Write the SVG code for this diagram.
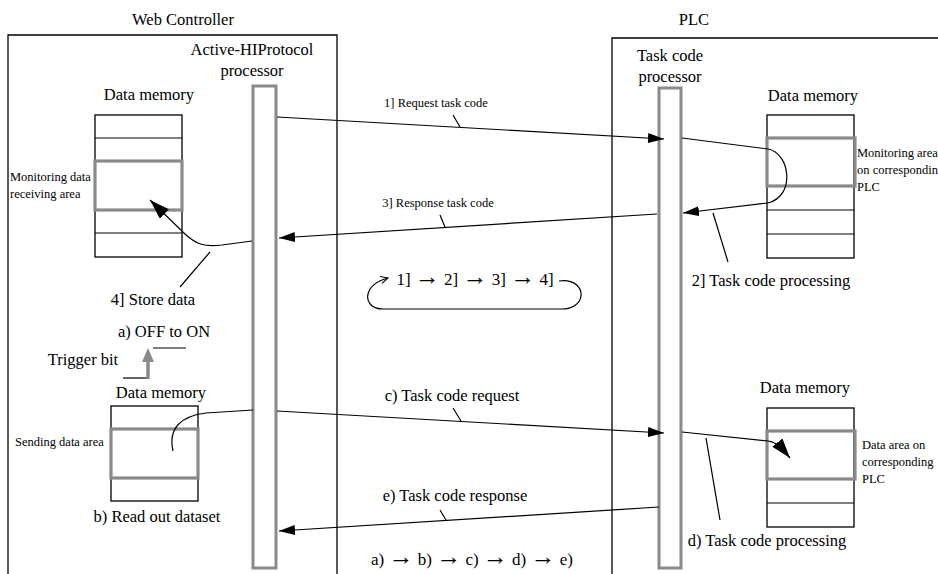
<svg xmlns="http://www.w3.org/2000/svg" width="938" height="574" viewBox="0 0 938 574" font-family="'Liberation Serif', 'Times New Roman', 'DejaVu Serif', serif">
<style>
  text { font-family: "Liberation Serif", "Times New Roman", "DejaVu Serif", serif; fill: #000; }
  .lg { font-size: 16.5px; }
  .sm { font-size: 12.5px; }
  .ar { font-size: 25px; }
  .fr { fill: none; stroke: #000; stroke-width: 1.3; }
  .bar { fill: #fff; stroke: #8a8a8a; stroke-width: 3; }
  .cell { fill: #fff; stroke: #000; stroke-width: 1.3; }
  .area { fill: none; stroke: #8a8a8a; stroke-width: 3.2; }
  .ln { fill: none; stroke: #000; stroke-width: 1.2; }
  .arw { fill: none; stroke: #000; stroke-width: 1.2; marker-end: url(#ah); }
</style>
<defs>
  <marker id="ah" viewBox="0 0 16 10" refX="16" refY="5" markerWidth="16" markerHeight="10" markerUnits="userSpaceOnUse" orient="auto">
    <path d="M0,0 L16,5 L0,10 z" fill="#000"/>
  </marker>
  <marker id="ahb" viewBox="0 0 20 13" refX="20" refY="6.5" markerWidth="20" markerHeight="13" markerUnits="userSpaceOnUse" orient="auto">
    <path d="M0,0 L20,6.5 L0,13 z" fill="#000"/>
  </marker>
  <marker id="ao" viewBox="0 0 10 10" refX="9" refY="5" markerWidth="9" markerHeight="9" markerUnits="userSpaceOnUse" orient="auto">
    <path d="M1,1 L9,5 L1,9" fill="none" stroke="#000" stroke-width="1.2"/>
  </marker>
</defs>
<rect width="938" height="574" fill="#fff"/>

<g id="web-controller">
  <path class="fr" d="M8,574 V35 H337 V574"/>
  <text class="lg" x="183" y="25" text-anchor="middle">Web Controller</text>
</g>
<g id="plc">
  <path class="fr" d="M612,574 V38 H938"/>
  <text class="lg" x="694" y="25" text-anchor="middle">PLC</text>
</g>

<g id="ahp-processor">
  <text class="lg" x="252" y="55" text-anchor="middle">Active-HIProtocol</text>
  <text class="lg" x="252" y="76" text-anchor="middle">processor</text>
  <rect class="bar" x="253" y="86" width="23" height="482"/>
</g>
<g id="task-code-processor">
  <text class="lg" x="670" y="61" text-anchor="middle">Task code</text>
  <text class="lg" x="670" y="82" text-anchor="middle">processor</text>
  <rect class="bar" x="659" y="88" width="22" height="480"/>
</g>

<g id="wc-data-memory-1">
  <text class="lg" x="149" y="100" text-anchor="middle">Data memory</text>
  <rect class="cell" x="95" y="115" width="87" height="142"/>
  <line class="ln" x1="95" y1="138" x2="182" y2="138"/>
  <line class="ln" x1="95" y1="233" x2="182" y2="233"/>
  <rect class="area" x="95" y="161" width="87" height="49"/>
  <text class="sm" x="10" y="181">Monitoring data</text>
  <text class="sm" x="10" y="198">receiving area</text>
</g>

<g id="wc-data-memory-2">
  <text class="lg" x="161" y="398" text-anchor="middle">Data memory</text>
  <rect class="cell" x="111" y="406" width="87" height="95"/>
  <rect class="area" x="111" y="429" width="87" height="49"/>
  <text class="sm" x="15" y="446">Sending data area</text>
  <text class="lg" x="157" y="522" text-anchor="middle">b) Read out dataset</text>
</g>

<g id="trigger-bit">
  <text class="lg" x="164" y="337" text-anchor="middle">a) OFF to ON</text>
  <text class="lg" x="83" y="365" text-anchor="middle">Trigger bit</text>
  <line class="ln" x1="123" y1="378" x2="148" y2="378"/>
  <line x1="148" y1="379" x2="148" y2="360" stroke="#8a8a8a" stroke-width="3.5"/>
  <polygon points="148,348 142,362 154,362" fill="#8a8a8a"/>
  <line class="ln" x1="153" y1="348" x2="186" y2="348"/>
</g>

<g id="plc-data-memory-1">
  <text class="lg" x="813" y="101" text-anchor="middle">Data memory</text>
  <rect class="cell" x="767" y="115" width="87" height="143"/>
  <line class="ln" x1="767" y1="210" x2="854" y2="210"/>
  <line class="ln" x1="767" y1="234" x2="854" y2="234"/>
  <rect class="area" x="767" y="138" width="88" height="48"/>
  <text class="sm" x="857" y="157">Monitoring area</text>
  <text class="sm" x="857" y="174">on corresponding</text>
  <text class="sm" x="857" y="191">PLC</text>
</g>

<g id="plc-data-memory-2">
  <text class="lg" x="805" y="393" text-anchor="middle">Data memory</text>
  <rect class="cell" x="767" y="408" width="87" height="119"/>
  <line class="ln" x1="767" y1="503" x2="854" y2="503"/>
  <rect class="area" x="767" y="431" width="88" height="48"/>
  <text class="sm" x="862" y="449">Data area on</text>
  <text class="sm" x="862" y="466">corresponding</text>
  <text class="sm" x="862" y="483">PLC</text>
</g>

<g id="connectors">
  <path class="arw" d="M277,117 L664,139"/>
  <text class="sm" x="436" y="107" text-anchor="middle">1] Request task code</text>
  <line class="ln" x1="453" y1="115" x2="460" y2="127"/>
  <path class="arw" d="M682,138 L768,149 C790,153 796,196 768,203 L683,213"/>
  <line class="ln" x1="713" y1="213" x2="728" y2="262"/>
  <text class="lg" x="771" y="286" text-anchor="middle">2] Task code processing</text>
  <path class="arw" d="M657,214 L279,238"/>
  <text class="sm" x="438" y="207" text-anchor="middle">3] Response task code</text>
  <line class="ln" x1="440" y1="215" x2="445" y2="227"/>
  <path class="ln" d="M252,241 L222,245 C203,247 196,244 185,234 L150,200" marker-end="url(#ahb)"/>
  <line class="ln" x1="210" y1="252" x2="180" y2="287"/>
  <text class="lg" x="153" y="305" text-anchor="middle">4] Store data</text>
  <path class="ln" d="M559,281 C575,279 582,288 581,296 C580,304 572,309 562,309 L383,309 C372,309 366,302 368,294 C370,286 377,281 388,278" marker-end="url(#ao)"/>
  <text style="font-size:17px" x="475" y="285" text-anchor="middle">1] <tspan class="ar">→</tspan> 2] <tspan class="ar">→</tspan> 3] <tspan class="ar">→</tspan> 4]</text>
  <path class="ln" d="M253,410 L206,413 C181,416 168,428 173,451"/>
  <path class="arw" d="M277,411 L664,433"/>
  <text class="lg" x="452" y="401" text-anchor="middle">c) Task code request</text>
  <line class="ln" x1="453" y1="408" x2="461" y2="421"/>
  <path class="ln" d="M682,432 L768,441 C776,442 781,447 790,458" marker-end="url(#ahb)"/>
  <line class="ln" x1="706" y1="438" x2="720" y2="520"/>
  <text class="lg" x="767" y="546" text-anchor="middle">d) Task code processing</text>
  <path class="arw" d="M659,507 L279,531"/>
  <text class="lg" x="455" y="501" text-anchor="middle">e) Task code response</text>
  <line class="ln" x1="440" y1="510" x2="446" y2="520"/>
  <text style="font-size:17px" x="472" y="565" text-anchor="middle">a) <tspan class="ar">→</tspan> b) <tspan class="ar">→</tspan> c) <tspan class="ar">→</tspan> d) <tspan class="ar">→</tspan> e)</text>
</g>
</svg>
